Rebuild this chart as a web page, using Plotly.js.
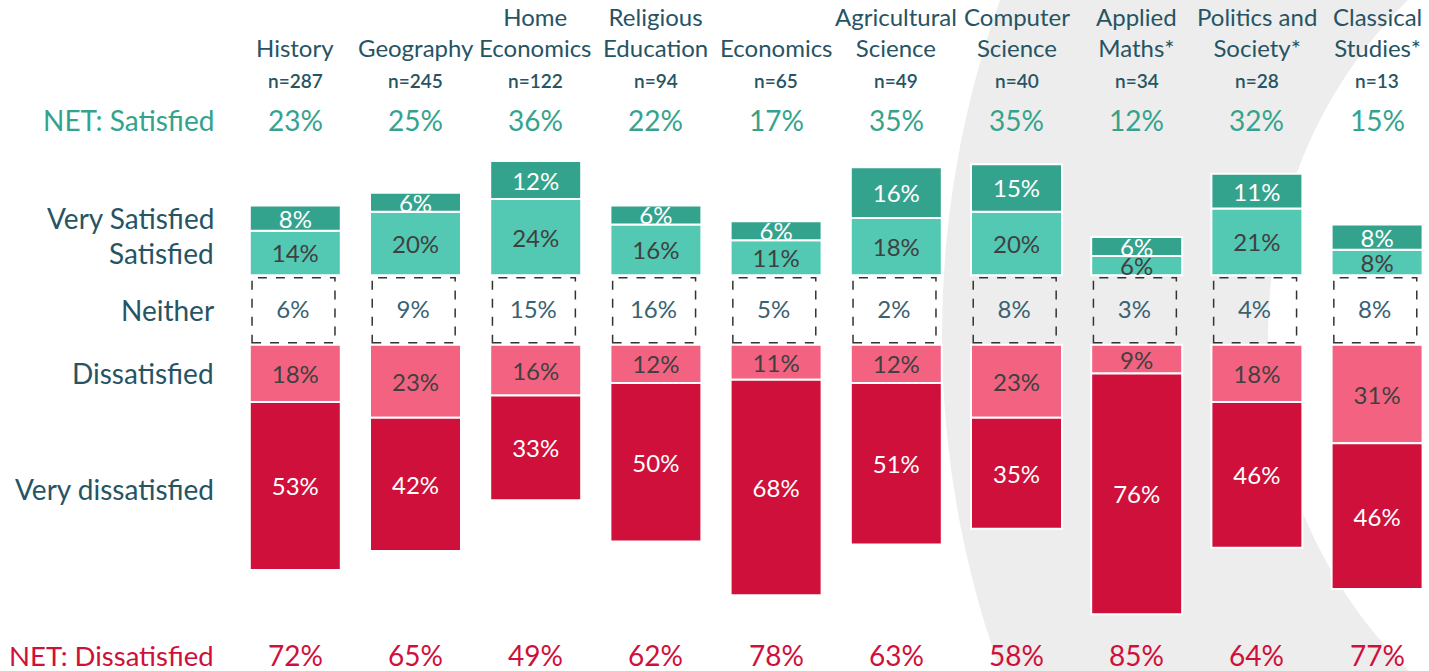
<!DOCTYPE html>
<html><head><meta charset="utf-8">
<script src="https://cdn.plot.ly/plotly-3.0.1.min.js"></script>
<style>html,body{margin:0;padding:0;background:#fff}</style>
</head><body><div id="chart" style="width:1429px;height:671px"></div>
<script>
const subjects = ["History","Geography","Home<br>Economics","Religious<br>Education","Economics","Agricultural<br>Science","Computer<br>Science","Applied<br>Maths*","Politics and<br>Society*","Classical<br>Studies*"];
const sampleSizes = [287,245,122,94,65,49,40,34,28,13];
const verySatisfied = [8,6,12,6,6,16,15,6,11,8];
const satisfied = [14,20,24,16,11,18,20,6,21,8];
const neither = [6,9,15,16,5,2,8,3,4,8];
const dissatisfied = [18,23,16,12,11,12,23,9,18,31];
const veryDissatisfied = [53,42,33,50,68,51,35,76,46,46];
const netSatisfied = [23,25,36,22,17,35,35,12,32,15];
const netDissatisfied = [72,65,49,62,78,63,58,85,64,77];
const rowLabels = ["NET: Satisfied","Very Satisfied","Satisfied","Neither","Dissatisfied","Very dissatisfied","NET: Dissatisfied"];

const W = 1429, H = 671;
const FONT = "Lato, 'Open Sans', sans-serif";
const C_VS = "#34A38E", C_S = "#53C9B4", C_D = "#F36381", C_VD = "#CF103B";
const C_LBL = "#275464", C_NEI = "#3A6273";
const G = 11;               // half-gap for the "Neither" band (in % units)
const BW = 0.757;
const idx = subjects.map((_, i) => i);
const pct = a => a.map(v => v + "%");

function barTrace(y, base, color, txtColor) {
  return {
    type: "bar", x: idx, y: y, base: base, width: BW,
    marker: {color: color, line: {color: "#ffffff", width: 2}},
    text: pct(y.map(Math.abs)), texttemplate: "%{text}",
    textposition: "inside", insidetextanchor: "middle", constraintext: "none",
    textfont: {family: FONT, size: 24, color: txtColor},
    hoverinfo: "skip", cliponaxis: false
  };
}

const traces = [
  barTrace(satisfied, idx.map(() => G), C_S, "#404040"),
  barTrace(verySatisfied, idx.map(i => G + satisfied[i]), C_VS, "#ffffff"),
  barTrace(dissatisfied.map(v => -v), idx.map(() => -G), C_D, "#404040"),
  barTrace(veryDissatisfied.map(v => -v), idx.map(i => -G - dissatisfied[i]), C_VD, "#ffffff"),
  {type: "scatter", mode: "text", x: idx.map(i => i - 0.02), y: idx.map(() => -0.7),
   text: pct(neither), textfont: {family: FONT, size: 24, color: C_NEI},
   hoverinfo: "skip", cliponaxis: false}
];

const shapes = [
  // decorative background crescent
  {type: "circle", xref: "paper", yref: "paper", layer: "below",
   x0: (1938 - 996) / W, x1: (1938 + 996) / W, y0: 1 - (335 + 996) / H, y1: 1 - (335 - 996) / H,
   fillcolor: "#EDEDED", line: {width: 0}},
  {type: "circle", xref: "paper", yref: "paper", layer: "below",
   x0: (1739 - 471) / W, x1: (1739 + 471) / W, y0: 1 - (335 + 471) / H, y1: 1 - (335 - 471) / H,
   fillcolor: "#ffffff", line: {width: 0}}
];
idx.forEach(i => shapes.push({
  type: "rect", xref: "x", yref: "y", layer: "above",
  x0: i - 0.36, x1: i + 0.33, y0: -10.3, y1: 10.2,
  line: {color: "#333333", width: 1.5, dash: "dash"}, fillcolor: "rgba(0,0,0,0)"
}));

const py = p => 1 - p / H;
const ann = [];
idx.forEach(i => {
  ann.push({x: i, xref: "x", y: py(64), yref: "paper", yanchor: "bottom", xanchor: "center",
    text: subjects[i], showarrow: false, font: {family: FONT, size: 24, color: C_LBL}});
  ann.push({x: i, xref: "x", y: py(80), yref: "paper", yanchor: "middle", xanchor: "center",
    text: "n=" + sampleSizes[i], showarrow: false, font: {family: FONT, size: 19, color: C_LBL, weight: 600}});
  ann.push({x: i, xref: "x", y: py(120), yref: "paper", yanchor: "middle", xanchor: "center",
    text: netSatisfied[i] + "%", showarrow: false, font: {family: FONT, size: 28, color: C_VS}});
  ann.push({x: i, xref: "x", y: py(655), yref: "paper", yanchor: "middle", xanchor: "center",
    text: netDissatisfied[i] + "%", showarrow: false, font: {family: FONT, size: 28, color: C_VD}});
});
const rowY = [120, 218, 253, 310, 373, 489, 655];
const rowColor = [C_VS, C_LBL, C_LBL, C_LBL, C_LBL, C_LBL, C_VD];
const rowSize = [28, 28, 28, 28, 28, 28, 27.5];
rowLabels.forEach((t, k) => ann.push({
  x: 216 / W, xref: "paper", y: py(rowY[k]), yref: "paper", xanchor: "right", yanchor: "middle",
  text: t, showarrow: false, font: {family: FONT, size: rowSize[k], color: rowColor[k]}
}));

const x0 = -295.3 / 120.2;
const layout = {
  width: W, height: H, margin: {l: 0, r: 0, t: 0, b: 0},
  paper_bgcolor: "#ffffff", plot_bgcolor: "rgba(0,0,0,0)",
  barmode: "overlay", showlegend: false,
  xaxis: {range: [x0, x0 + W / 120.2], visible: false, fixedrange: true},
  yaxis: {range: [-(H - 310) / 3.17, 310 / 3.17], visible: false, fixedrange: true},
  shapes: shapes, annotations: ann, font: {family: FONT}
};
Plotly.newPlot("chart", traces, layout, {displayModeBar: false, staticPlot: true});
</script></body></html>
